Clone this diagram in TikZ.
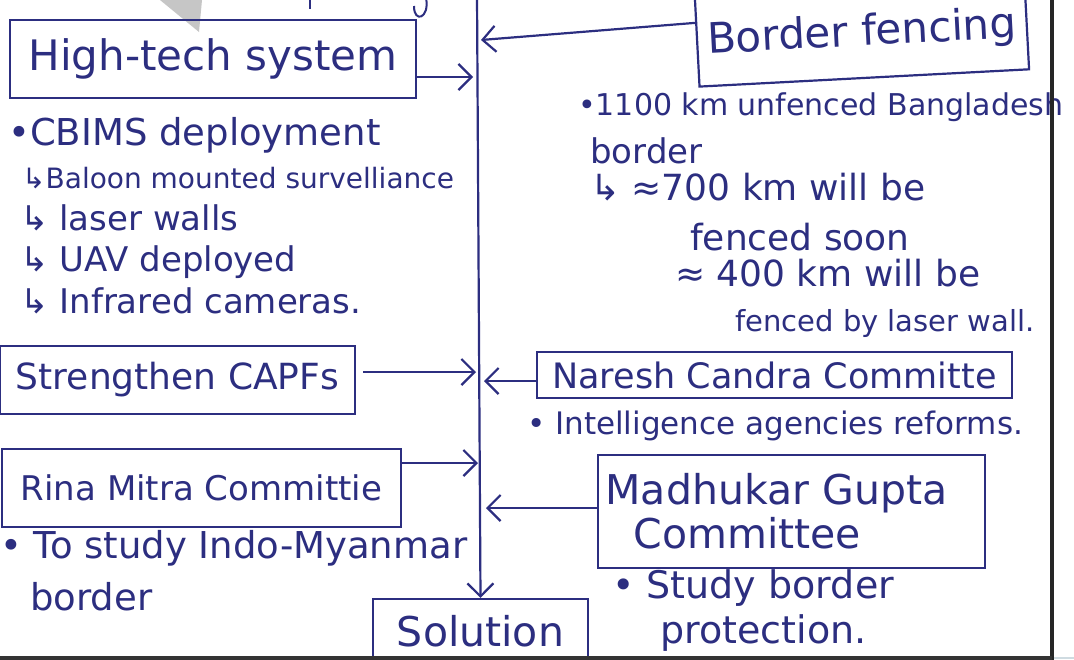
\documentclass[tikz,border=0pt]{standalone}
\usepackage{fontspec}
\setmainfont{DejaVu Sans}
\usetikzlibrary{arrows.meta,calc}
\definecolor{ink}{RGB}{44,46,128}
\newcommand\fsz[1]{\fontsize{#1}{#1}\selectfont}
\begin{document}
\begin{tikzpicture}[x=1pt,y=-1pt,
  box/.style={draw=ink, line width=2.2pt, inner sep=0pt, text=ink},
  hand/.style={text=ink, anchor=base west, inner sep=0pt},
  arr/.style={draw=ink, line width=2.2pt, -{Straight Barb[length=13pt,width=26pt]}}]
\useasboundingbox (0,0) rectangle (1074,659);
\clip (0,0) rectangle (1074,659);
\fill[white] (0,0) rectangle (1074,659);

% grey pointer shadow at the top edge
\fill[gray!45] (160,0) -- (202,0) -- (199,32) -- cycle;

% remains of the line above
\draw[ink, line width=2pt] (310,-2) -- (310,9);
\draw[ink, line width=2pt] (426,-2) .. controls (430,18) and (414,24) .. (414,6);

% headings
\node[box, minimum width=406pt, minimum height=78pt, font=\fsz{42}] (hts) at (213,59) {High-tech system};
\node[box, rotate=3, minimum width=330pt, minimum height=88pt, font=\fsz{42}] (bf) at (862,34) {Border fencing};
\node[box, minimum width=355pt, minimum height=68pt, font=\fsz{36}] (caps) at (177.5,380) {Strengthen CAPFs};
\node[box, minimum width=399pt, minimum height=78pt, font=\fsz{34}] (rm) at (201.5,488) {Rina Mitra Committie};
\node[box, minimum width=475pt, minimum height=46pt, font=\fsz{35}] (nc) at (774.5,375) {Naresh Candra Committe};
\node[box, minimum width=387pt, minimum height=113pt, text width=372pt, align=left, font={\fontsize{41}{44}\selectfont}] (mg) at (791.5,511.5) {Madhukar Gupta\\\hspace*{28pt}Committee};
\node[box, minimum width=215pt, minimum height=64pt, font=\fsz{41}] (sol) at (480.5,631) {Solution};

% points where the branches meet the spine
\coordinate (top) at (477,-5);
\coordinate (jb) at (481,40);
\coordinate (jh) at (473,77);
\coordinate (jc) at (476,372);
\coordinate (jn) at (484,381);
\coordinate (jr) at (478,463);
\coordinate (jm) at (486,508);

% spine and branches
\draw[arr] (top) -- (sol.north);
\draw[arr] ($(bf.north west)!0.28!(bf.south west)$) -- (jb);
\draw[arr] (hts.east |- jh) -- (jh);
\draw[arr] ([xshift=7pt]caps.east |- jc) -- (jc);
\draw[arr] (nc.west |- jn) -- (jn);
\draw[arr] (rm.east |- jr) -- (jr);
\draw[arr] (mg.west |- jm) -- (jm);

% notes, left column
\node[hand, font=\fsz{37}] (n1) at (8,145) {•CBIMS deployment};
\node[hand, font=\fsz{28}] (n2) at (22,188) {↳Baloon mounted survelliance};
\node[hand, font=\fsz{34}] (n3) at (20,230) {↳ laser walls};
\node[hand, font=\fsz{34}] (n4) at (20,271) {↳ UAV deployed};
\node[hand, font=\fsz{34}] (n5) at (20,313) {↳ Infrared cameras.};
\node[hand, font=\fsz{37}] (n6) at (0,558) {• To study Indo-Myanmar};
\node[hand, font=\fsz{37}] (n7) at (30,610) {border};

% notes, right column
\node[hand, font=\fsz{30}] (m1) at (578,115) {•1100 km unfenced Bangladesh};
\node[hand, font=\fsz{34}] (m2) at (590,163) {border};
\node[hand, font=\fsz{36}] (m3) at (590,200) {↳ ≈700 km will be};
\node[hand, font=\fsz{36}] (m4) at (690,250) {fenced soon};
\node[hand, font=\fsz{36}] (m5) at (675,286) {≈ 400 km will be};
\node[hand, font=\fsz{29}] (m6) at (735,331) {fenced by laser wall.};
\node[hand, font=\fsz{31}] (m7) at (527,434) {• Intelligence agencies reforms.};
\node[hand, font=\fsz{38}] (m8) at (612,598) {• Study border};
\node[hand, font=\fsz{38}] (m9) at (660,643) {protection.};

% page edges
\draw[black!85, line width=3.5pt] (1052,-2) -- (1052,661);
\draw[black!80, line width=4pt] (-2,657.5) -- (1052,657.5);
\draw[cyan!25!gray!35, line width=2pt] (1054,658) -- (1076,658);
\end{tikzpicture}
\end{document}
